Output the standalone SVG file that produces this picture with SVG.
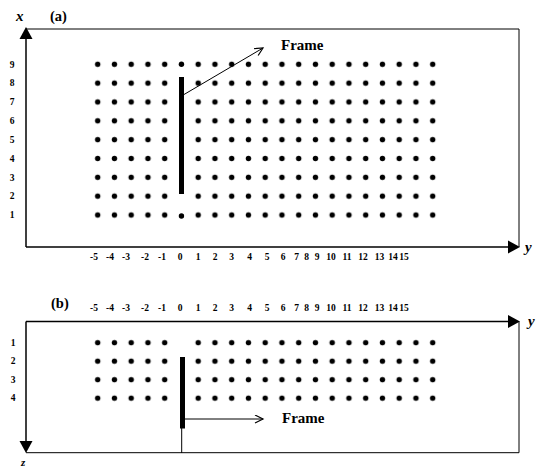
<svg xmlns="http://www.w3.org/2000/svg" width="547" height="468" viewBox="0 0 547 468">
<style>
.ax{stroke:#000;stroke-width:1.5;fill:none}
.thin{stroke:#000;stroke-width:1;fill:none}
.lbl{font-family:"Liberation Serif",serif;font-weight:bold;font-size:9.5px;fill:#000;text-anchor:middle}
.ttl{font-family:"Liberation Serif",serif;font-weight:bold;font-size:14.5px;fill:#000}
.axn{font-family:"Liberation Serif",serif;font-weight:bold;font-style:italic;font-size:15px;fill:#000}
.frm{font-family:"Liberation Serif",serif;font-weight:bold;font-size:15px;fill:#000}
.dot{fill:#000}
</style>
<defs>
<pattern id="pa" patternUnits="userSpaceOnUse" x="89.325" y="54.88" width="16.75" height="18.84">
<circle cx="8.375" cy="9.42" r="2.7" fill="#000"/>
</pattern>
<pattern id="pb" patternUnits="userSpaceOnUse" x="89.325" y="333.45" width="16.75" height="18.5">
<circle cx="8.375" cy="9.25" r="2.7" fill="#000"/>
</pattern>
<marker id="open" markerUnits="userSpaceOnUse" markerWidth="12" markerHeight="10" refX="9" refY="4" orient="auto">
<path d="M1,0 L9,4 L1,8" fill="none" stroke="#000" stroke-width="1.2"/>
</marker>
</defs>

<g id="panel-a">
<g id="a-axes">
<path class="ax" d="M26,247 V37"/>
<path d="M19.5,39 L26,27 L32.5,39 Z" fill="#000"/>
<path class="thin" d="M26,29 H519 V247"/>
<path class="ax" d="M26,247 H510"/>
<path d="M508,240.5 L520,247 L508,253.5 Z" fill="#000"/>
<text class="axn" x="16" y="21">x</text>
<text class="axn" x="525" y="252">y</text>
<text class="ttl" x="50" y="21">(a)</text>
</g>
<g id="a-dots">
<rect x="89.325" y="54.88" width="83.75" height="169.56" fill="url(#pa)"/>
<rect x="189.825" y="54.88" width="251.25" height="169.56" fill="url(#pa)"/>
<circle class="dot" cx="181.45" cy="64.3" r="2.7"/>
<circle class="dot" cx="181.45" cy="216" r="2.7"/>
</g>
<g id="a-frame">
<rect x="179" y="77" width="5" height="117" fill="#000"/>
<text class="frm" x="281" y="50">Frame</text>
</g>
<g id="a-rowlabels">
<text class="lbl" x="12" y="67.5">9</text>
<text class="lbl" x="12" y="86.3">8</text>
<text class="lbl" x="12" y="105.2">7</text>
<text class="lbl" x="12" y="124">6</text>
<text class="lbl" x="12" y="142.8">5</text>
<text class="lbl" x="12" y="161.7">4</text>
<text class="lbl" x="12" y="180.5">3</text>
<text class="lbl" x="12" y="199.4">2</text>
<text class="lbl" x="12" y="218.2">1</text>
</g>
<g id="a-collabels">
<text class="lbl" x="94" y="260">-5</text>
<text class="lbl" x="110" y="260">-4</text>
<text class="lbl" x="126" y="260">-3</text>
<text class="lbl" x="145" y="260">-2</text>
<text class="lbl" x="162" y="260">-1</text>
<text class="lbl" x="180" y="260">0</text>
<text class="lbl" x="198" y="260">1</text>
<text class="lbl" x="215" y="260">2</text>
<text class="lbl" x="231.5" y="260">3</text>
<text class="lbl" x="249.5" y="260">4</text>
<text class="lbl" x="267" y="260">5</text>
<text class="lbl" x="283" y="260">6</text>
<text class="lbl" x="296.5" y="260">7</text>
<text class="lbl" x="306.5" y="260">8</text>
<text class="lbl" x="317" y="260">9</text>
<text class="lbl" x="331" y="260">10</text>
<text class="lbl" x="347" y="260">11</text>
<text class="lbl" x="363" y="260">12</text>
<text class="lbl" x="379.5" y="260">13</text>
<text class="lbl" x="393" y="260">14</text>
<text class="lbl" x="404" y="260">15</text>
</g>
</g>

<g id="panel-b">
<g id="b-axes">
<path class="ax" d="M26,321.5 H510"/>
<path d="M508,315 L520,321.5 L508,328 Z" fill="#000"/>
<path class="ax" d="M26,321.5 V442"/>
<path d="M19.5,441 L26,453 L32.5,441 Z" fill="#000"/>
<path class="thin" d="M519,321.5 V452.7 H26"/>
<text class="axn" x="528" y="326">y</text>
<text class="axn" x="21" y="466" style="font-size:11px">z</text>
<text class="ttl" x="51" y="308">(b)</text>
</g>
<g id="b-dots">
<rect x="89.325" y="333.45" width="83.75" height="74" fill="url(#pb)"/>
<rect x="189.825" y="333.45" width="251.25" height="74" fill="url(#pb)"/>
</g>
<g id="b-frame">
<rect x="180" y="357" width="5" height="71.5" fill="#000"/>
<path class="thin" d="M181.7,428 V453"/>
<text class="frm" x="282" y="423">Frame</text>
</g>
<g id="b-rowlabels">
<text class="lbl" x="13" y="345.9">1</text>
<text class="lbl" x="13" y="364.2">2</text>
<text class="lbl" x="13" y="382.7">3</text>
<text class="lbl" x="13" y="401.2">4</text>
</g>
<g id="b-collabels">
<text class="lbl" x="94" y="310.5">-5</text>
<text class="lbl" x="110" y="310.5">-4</text>
<text class="lbl" x="126" y="310.5">-3</text>
<text class="lbl" x="145" y="310.5">-2</text>
<text class="lbl" x="162" y="310.5">-1</text>
<text class="lbl" x="180" y="310.5">0</text>
<text class="lbl" x="198" y="310.5">1</text>
<text class="lbl" x="215" y="310.5">2</text>
<text class="lbl" x="231.5" y="310.5">3</text>
<text class="lbl" x="249.5" y="310.5">4</text>
<text class="lbl" x="267" y="310.5">5</text>
<text class="lbl" x="283" y="310.5">6</text>
<text class="lbl" x="296.5" y="310.5">7</text>
<text class="lbl" x="306.5" y="310.5">8</text>
<text class="lbl" x="317" y="310.5">9</text>
<text class="lbl" x="331" y="310.5">10</text>
<text class="lbl" x="347" y="310.5">11</text>
<text class="lbl" x="363" y="310.5">12</text>
<text class="lbl" x="379.5" y="310.5">13</text>
<text class="lbl" x="393" y="310.5">14</text>
<text class="lbl" x="404" y="310.5">15</text>
</g>
</g>

<g id="connectors">
<path class="thin" d="M184,94.5 L263,48" marker-end="url(#open)"/>
<path class="thin" d="M185,419 L263,419" marker-end="url(#open)"/>
</g>
</svg>
